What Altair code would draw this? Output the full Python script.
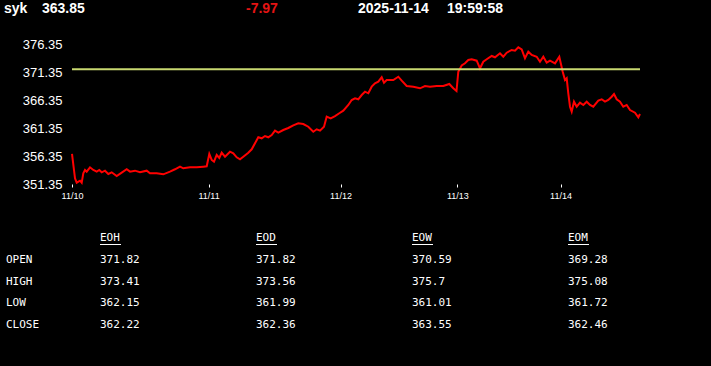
import altair as alt
import pandas as pd

# ---- data ----
ticker = "syk"
last_price = "363.85"
change = "-7.97"
date_str = "2025-11-14"
time_str = "19:59:58"
prev_close = 371.82

t = [0, 3, 4.7, 8, 9.7, 11.3, 13, 14.7, 18, 21.3, 24.7, 27.3, 29.7, 33, 36.3, 39.7, 44.7, 49.7,
     54.7, 58, 63, 68, 74.7, 78, 84.7, 91.3, 98, 103, 108, 111.3, 118, 124.7, 131.3, 134.7,
     137.3, 139.7, 142, 144.7, 147.3, 149.7, 153, 158, 161.3, 164.7, 168, 171.3, 176.3, 179.7,
     183, 186.3, 189.7, 193, 196.3, 199.7, 203, 206.3, 211.3, 216.3, 221.3, 226.3, 231.3,
     236.3, 241.3, 244.7, 248, 252, 254.7, 258.7, 263, 267.3, 271.3, 276.3, 279.7, 283, 286.3,
     289.7, 293, 296.3, 299.7, 303, 306.3, 309.7, 312, 314.7, 321.3, 326.3, 329.7, 334.7,
     341.3, 348, 353, 358, 364.7, 371.3, 377.3, 381.3, 384.5, 386.3, 389.7, 393, 396.3, 399.7,
     404.7, 408, 411.3, 414.7, 419.7, 423, 428, 431.3, 434.7, 439.7, 443, 446.3, 449.7, 453,
     456.3, 459.7, 464.7, 468, 471.3, 474.7, 478, 483, 487.3, 490.7, 493, 494.7, 496.3, 498,
     499.7, 502, 504.7, 508, 511.3, 514.7, 518, 521.3, 526.3, 529.7, 533, 536.3, 539.7, 542,
     544.7, 548, 551.3, 554.7, 558, 563, 566.3, 568]
price = [356.71, 352.37, 351.58, 351.94, 351.58, 353.26, 353.85, 353.55, 354.33, 353.85, 353.55,
         353.85, 353.44, 353.73, 353.14, 353.44, 352.78, 353.37, 353.98, 353.55, 353.73, 353.44,
         353.73, 353.26, 353.26, 353.08, 353.55, 353.98, 354.44, 354.15, 354.33, 354.33, 354.44,
         354.51, 356.71, 355.64, 355.33, 356.53, 355.99, 356.94, 356.23, 357.12, 356.83, 356.12,
         355.76, 356.23, 356.94, 357.55, 358.62, 359.69, 359.51, 359.92, 359.69, 360.10, 360.87,
         360.51, 360.99, 361.35, 361.83, 362.19, 362.06, 361.58, 360.69, 361.12, 360.87, 361.58,
         363.37, 363.08, 363.49, 363.98, 364.44, 365.46, 366.35, 366.65, 366.48, 367.24, 367.83,
         367.55, 368.73, 369.33, 369.62, 370.40, 369.44, 369.92, 369.92, 370.51, 369.80, 368.85,
         368.73, 368.44, 368.85, 368.73, 368.85, 368.85, 369.21, 368.44, 367.96, 371.40, 372.51,
         372.90, 373.49, 373.62, 373.37, 372.01, 373.19, 373.62, 374.21, 373.98, 374.69, 374.08,
         374.80, 375.28, 375.15, 375.76, 375.40, 373.80, 374.98, 374.39, 374.08, 373.19, 374.08,
         373.01, 373.37, 372.90, 374.08, 371.40, 369.92, 370.23, 367.55, 365.15, 364.26, 366.05,
         365.15, 365.87, 365.46, 366.05, 365.46, 365.15, 366.23, 366.48, 366.05, 366.35, 366.94,
         367.42, 366.48, 366.05, 365.15, 365.46, 364.56, 364.08, 363.26, 363.85]

day_ticks = [0, 136.6, 268.5, 385.3, 488.5]
day_labels = ["11/10", "11/11", "11/12", "11/13", "11/14"]
y_ticks = [351.35, 356.35, 361.35, 366.35, 371.35, 376.35]

col_names = ["EOH", "EOD", "EOW", "EOM"]
row_names = ["OPEN", "HIGH", "LOW", "CLOSE"]
eoh = ["371.82", "373.41", "362.15", "362.22"]
eod = ["371.82", "373.56", "361.99", "362.36"]
eow = ["370.59", "375.7", "361.01", "363.55"]
eom = ["369.28", "375.08", "361.72", "362.46"]
table_cols = [eoh, eod, eow, eom]

# ---- chart ----
W, H = 568, 140
line_df = pd.DataFrame({"t": t, "price": price})

label_expr = " : ".join(
    [f"datum.value == {v} ? '{l}'" for v, l in zip(day_ticks, day_labels)]
) + " : ''"

x_axis = alt.Axis(values=day_ticks, labelExpr=label_expr, grid=False, domain=False,
                  ticks=True, tickColor="white", tickSize=3, tickWidth=1,
                  labelColor="white", labelFont="Liberation Sans", labelFontSize=9,
                  labelPadding=4, labelFlush=False, labelOverlap=False,
                  labelBound=False, title=None)
y_axis = alt.Axis(values=y_ticks, format=".2f", grid=False, domain=False, ticks=False,
                  labelColor="white", labelFont="Liberation Sans", labelFontSize=13,
                  labelPadding=10, labelOverlap=False, labelFlush=False,
                  labelBound=False, title=None)
x_scale = alt.Scale(domain=[0, 568], nice=False, zero=False)
y_scale = alt.Scale(domain=[351.35, 376.35], nice=False, zero=False)

line = alt.Chart(line_df).mark_line(color="#ff0000", strokeWidth=2).encode(
    x=alt.X("t:Q", scale=x_scale, axis=x_axis),
    y=alt.Y("price:Q", scale=y_scale, axis=y_axis),
)

rule = alt.Chart(pd.DataFrame({"pc": [prev_close]})).mark_rule(
    color="#c8d870", strokeWidth=2
).encode(y=alt.Y("pc:Q", scale=y_scale, axis=y_axis))

dummy = pd.DataFrame({"d": [0]})


def txt(s, x, y, color="white", size=14, weight="bold", font="Liberation Sans"):
    return alt.Chart(dummy).mark_text(
        align="left", baseline="middle", color=color, fontSize=size,
        fontWeight=weight, font=font
    ).encode(x=alt.value(x), y=alt.value(y), text=alt.value(s))


layers = [line, rule]
# header
layers.append(txt(ticker, -68, -35))
layers.append(txt(last_price, -30, -35))
layers.append(txt(change, 174, -35, color="#e41414"))
layers.append(txt(date_str, 286, -35))
layers.append(txt(time_str, 375, -35))

# table
mono = "DejaVu Sans Mono"
col_x = [28 + 156 * i for i in range(len(col_names))]
row_y = [216, 237.5, 259, 281]
for i, name in enumerate(col_names):
    layers.append(txt(name, col_x[i], 194, size=11, weight="normal", font=mono))
    layers.append(
        alt.Chart(dummy).mark_rule(color="white", strokeWidth=1).encode(
            x=alt.value(col_x[i]), x2=alt.value(col_x[i] + 21), y=alt.value(200.5)
        )
    )
for j, rname in enumerate(row_names):
    layers.append(txt(rname, -66, row_y[j], size=11, weight="normal", font=mono))
    for i in range(len(col_names)):
        layers.append(txt(table_cols[i][j], col_x[i], row_y[j], size=11, weight="normal", font=mono))

chart = alt.layer(*layers).properties(
    width=W, height=H,
    autosize=alt.AutoSizeParams(type="none"),
    padding={"left": 72, "top": 44, "right": 71, "bottom": 182},
).configure(background="black").configure_view(stroke=None)

chart.save("out.html", embed_options={"renderer": "svg", "actions": False})
